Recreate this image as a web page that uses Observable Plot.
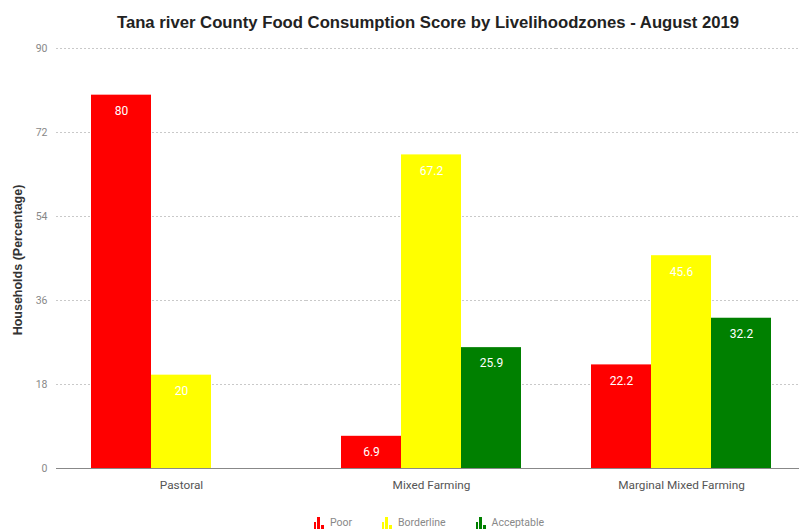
<!DOCTYPE html>
<html>
<head>
<meta charset="utf-8">
<script src="https://cdn.jsdelivr.net/npm/d3@7"></script>
<script src="https://cdn.jsdelivr.net/npm/@observablehq/plot@0.6"></script>
<style>
  html, body { margin: 0; padding: 0; background: #fff; overflow: hidden; }
  body { width: 799px; height: 530px; font-family: "Liberation Sans", Arial, sans-serif; }
  #title { height: 40px; line-height: 45px; padding-left: 57px; text-align: center; font-weight: bold; font-size: 16.7px; color: #222; white-space: nowrap; }
  #chart svg { display: block; overflow: hidden; }
  #legend { height: 25px; padding-top: 5px; padding-left: 59px; display: flex; justify-content: center; align-items: center; gap: 30px; font-family: Roboto, "Liberation Sans", sans-serif; font-size: 10.5px; color: #888; }
  #legend .item { display: flex; align-items: center; gap: 6px; }
</style>
</head>
<body>
<div id="title">Tana river County Food Consumption Score by Livelihoodzones - August 2019</div>
<div id="chart"></div>
<div id="legend"></div>
<script>
// Livelihood zones and score groups
const zones = ["Pastoral", "Mixed Farming", "Marginal Mixed Farming"];
const groups = ["Poor", "Borderline", "Acceptable"];
const groupColors = ["#ff0000", "#ffff00", "#008000"];

// Share of households (%) per zone, one array per score group
const poor = [80, 6.9, 22.2];
const borderline = [20, 67.2, 45.6];
const acceptable = [0, 25.9, 32.2];

const yTicks = [0, 18, 36, 54, 72, 90];

const seriesByGroup = [poor, borderline, acceptable];
const rows = zones.flatMap((zone, i) =>
  groups.map((group, g) => ({zone, group, value: seriesByGroup[g][i]}))
);

const chart = Plot.plot({
  width: 799,
  height: 465,
  marginTop: 8,
  marginBottom: 37,
  marginLeft: 56,
  marginRight: 0,
  style: {fontFamily: "Roboto, 'Liberation Sans', sans-serif", fontSize: "10px", color: "#777"},
  fx: {domain: zones, range: [55, 806], padding: 0, label: null},
  x: {domain: groups, paddingInner: 0, paddingOuter: 0.58, axis: null},
  y: {domain: [0, 90], label: null},
  color: {domain: groups, range: groupColors},
  marks: [
    Plot.gridY(yTicks, {stroke: "#bbb", strokeOpacity: 1, strokeDasharray: "2,2", strokeWidth: 0.8}),
    Plot.axisY(yTicks, {tickSize: 0, tickPadding: 9, fill: "#888", fontSize: 10.5, label: null}),
    Plot.axisFx({anchor: "bottom", tickSize: 0, tickPadding: 12, fill: "#555", fontSize: 11.8, label: null}),
    Plot.barY(rows.filter(d => d.value > 0), {fx: "zone", x: "group", y: "value", fill: "group"}),
    Plot.ruleY([0], {stroke: "#888", strokeWidth: 1}),
    Plot.text(rows.filter(d => d.value > 0), {
      fx: "zone", x: "group", y: "value", text: d => String(d.value),
      dy: 16, fill: "#fff", fontSize: 12
    })
  ]
});

// Rotated y-axis title
const svg = d3.select(chart);
svg.append("text")
  .attr("transform", "translate(22,220) rotate(-90)")
  .attr("text-anchor", "middle")
  .attr("font-family", "'Liberation Sans', Arial, sans-serif")
  .attr("font-size", 12.5)
  .attr("font-weight", "bold")
  .attr("fill", "#333")
  .text("Households (Percentage)");

document.getElementById("chart").append(chart);

// Legend with small bar-chart glyphs
const legend = d3.select("#legend");
groups.forEach((g, i) => {
  const item = legend.append("div").attr("class", "item");
  const icon = item.append("svg").attr("width", 10).attr("height", 12);
  [[0, 5, 2], [3, 0, 3], [7, 8, 3]].forEach(([x, y, w]) => {
    icon.append("rect").attr("x", x).attr("y", y).attr("width", w).attr("height", 12 - y).attr("fill", groupColors[i]);
  });
  item.append("span").text(g);
});
</script>
</body>
</html>
